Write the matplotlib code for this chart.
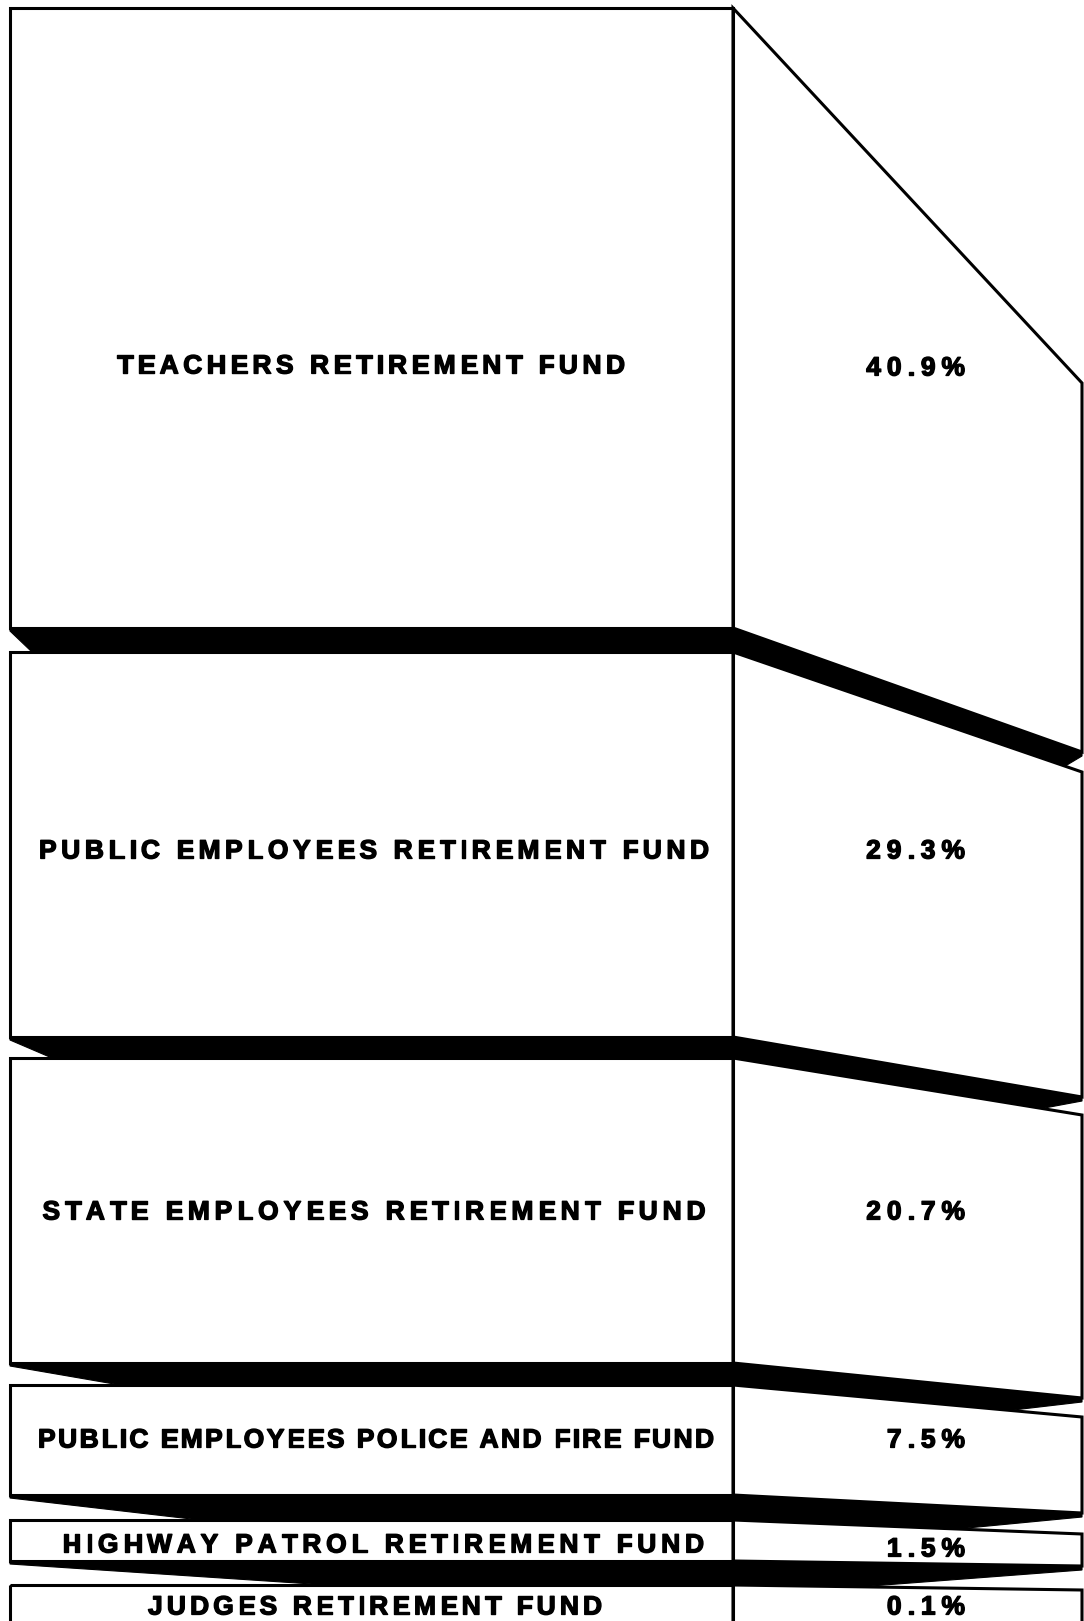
import matplotlib
matplotlib.use("Agg")
import matplotlib.pyplot as plt
import matplotlib.patheffects as pe
from matplotlib.patches import Polygon
from matplotlib.font_manager import FontProperties

# data
funds = ["TEACHERS RETIREMENT FUND",
         "PUBLIC EMPLOYEES RETIREMENT FUND",
         "STATE EMPLOYEES RETIREMENT FUND",
         "PUBLIC EMPLOYEES POLICE AND FIRE FUND",
         "HIGHWAY PATROL RETIREMENT FUND",
         "JUDGES RETIREMENT FUND"]
shares = [40.9, 29.3, 20.7, 7.5, 1.5, 0.1]
pct_labels = [f"{v:.1f}%" for v in shares]

# layout of the drawing (pixel units, y down)
L, D, R = 10, 733, 1082          # left edge, divider, right edge
box_top_l = [8, 652, 1058, 1385, 1520, 1585]
box_bot_l = [628, 1037, 1363, 1495, 1561, 1660]
box_top_r = [383, 772, 1115, 1417, 1534, 1590]
box_bot_r = [752, 1097, 1398, 1513, 1566, 1660]
wedge_len = [22, 42, 110, 190, 317]
notch_len = [17, 40, 72, 125, 222]
label_y = [364, 849, 1210, 1438, 1543, 1605]
pct_y = [366, 849, 1210, 1438, 1547, 1605]
label_x = [371, 374, 374, 376, 383, 375]
label_w = [508, 670, 663, 676, 642, 454]

W, H = 1084, 1621
fig = plt.figure(figsize=(W / 100, H / 100), dpi=100)
ax = fig.add_axes([0, 0, 1, 1])
ax.set_xlim(0, W)
ax.set_ylim(H, 0)
ax.axis('off')

LW = 2.2

# black bands between the boxes
for i in range(len(funds) - 1):
    t, b = box_bot_l[i], box_top_l[i + 1]
    tr, nr = box_bot_r[i], box_top_r[i + 1]
    xs = R - notch_len[i]
    ys = b + (nr - b) * (xs - D) / (R - D)
    pts = [(L, t), (D, t), (R, tr), (R, tr + 4), (xs, ys), (D, b),
           (L + wedge_len[i], b), (L, t + 3)]
    ax.add_patch(Polygon(pts, closed=True, facecolor='black', edgecolor='black', lw=0.8))

# box outlines
for i in range(len(funds)):
    ax.add_patch(Polygon([(L, box_top_l[i]), (D, box_top_l[i]), (D, box_bot_l[i]), (L, box_bot_l[i])],
                         closed=True, fill=False, edgecolor='black', lw=LW, joinstyle='miter'))
    ax.add_patch(Polygon([(D, box_top_l[i]), (R, box_top_r[i]), (R, box_bot_r[i]), (D, box_bot_l[i])],
                         closed=True, fill=False, edgecolor='black', lw=LW, joinstyle='miter'))

# letter-spaced bold text, one character at a time
FS = 19
prop = FontProperties(family='Liberation Sans', weight='bold', size=FS)
renderer = fig.canvas.get_renderer()
heavy = [pe.withStroke(linewidth=1.0, foreground='black')]
half_cap = 0.716 * FS * 100 / 72 / 2


def text_w(s):
    return renderer.get_text_width_height_descent(s, prop, ismath=False)[0]


def advances(s):
    base = text_w("HH")
    return [text_w("H" + c + "H") - base for c in s]


def spaced(x, y, s, width=None, track=6.0, ha='center'):
    adv = advances(s)
    if width is not None:
        track = (width - sum(adv)) / (len(s) - 1)
    total = sum(adv) + track * (len(s) - 1)
    x0 = x - total / 2 if ha == 'center' else x - total
    for c, a in zip(s, adv):
        ax.text(x0, y + half_cap, c, fontproperties=prop, ha='left', va='baseline',
                color='black', path_effects=heavy)
        x0 += a + track


for i, name in enumerate(funds):
    spaced(label_x[i], label_y[i], name, width=label_w[i])
    spaced(965, pct_y[i], pct_labels[i], track=6.0, ha='right')

fig.savefig("out.png", dpi=100, facecolor='white')
